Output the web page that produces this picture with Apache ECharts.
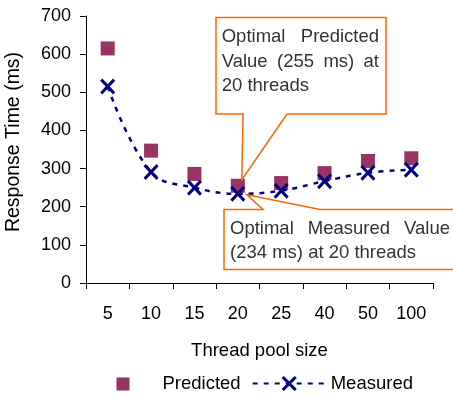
<!DOCTYPE html>
<html>
<head>
<meta charset="utf-8">
<script src="https://cdn.jsdelivr.net/npm/echarts@6/dist/echarts.min.js"></script>
<style>
  html, body { margin: 0; padding: 0; background: #fff; }
  #chart { width: 453px; height: 399px; }
</style>
</head>
<body>
<div id="chart"></div>
<script>
// Response time per thread pool size
const threadPoolSizes = ['5', '10', '15', '20', '25', '40', '50', '100'];
const predictedMs = [615, 347, 286, 255, 262, 288, 320, 327];
const measuredMs = [515, 291, 250, 234, 242, 267, 289, 297];
const yTickValues = [0, 100, 200, 300, 400, 500, 600, 700];
const optimalIndex = 3;

const FONT = '"Liberation Sans", Arial, sans-serif';
const ORANGE = '#FF6600';
const NOTE_COLOR = '#333333';
const NOTE_SIZE = 18.5;
// "X" marker outline, filled
const crossPath = 'path://M1.4,0 L5,3.6 L8.6,0 L10,1.4 L6.4,5 L10,8.6 L8.6,10 L5,6.4 L1.4,10 L0,8.6 L3.6,5 L0,1.4 Z';

const chart = echarts.init(document.getElementById('chart'), null, { renderer: 'canvas' });

chart.setOption({
  animation: false,
  backgroundColor: '#ffffff',
  textStyle: { fontFamily: FONT },
  grid: { left: 86, right: 20, top: 16, bottom: 116, containLabel: false, outerBoundsMode: 'none' },
  xAxis: {
    type: 'category',
    data: threadPoolSizes,
    boundaryGap: true,
    name: 'Thread pool size',
    nameLocation: 'middle',
    nameGap: 58,
    nameTextStyle: { fontSize: 18.5, color: '#000', fontFamily: FONT },
    axisLine: { lineStyle: { color: '#000', width: 1 } },
    axisTick: { show: true, length: 6, lineStyle: { color: '#000' } },
    axisLabel: { fontSize: 18, color: '#000', margin: 22, fontFamily: FONT },
    splitLine: { show: false }
  },
  yAxis: {
    type: 'value',
    min: yTickValues[0],
    max: yTickValues[yTickValues.length - 1],
    interval: yTickValues[1] - yTickValues[0],
    name: 'Response Time (ms)',
    nameLocation: 'middle',
    nameGap: 62,
    nameRotate: 90,
    nameTextStyle: { fontSize: 19.5, color: '#000', fontFamily: FONT, padding: [0, 0, 0, 15] },
    axisLine: { show: true, lineStyle: { color: '#000', width: 1 } },
    axisTick: { show: true, length: 6, lineStyle: { color: '#000' } },
    axisLabel: { fontSize: 18, color: '#000', margin: 15, fontFamily: FONT },
    splitLine: { show: false }
  },
  legend: [
    {
      data: ['Predicted'],
      left: 116.5, top: 374.5, padding: 0,
      itemWidth: 13, itemHeight: 13,
      textStyle: { fontSize: 18.5, color: '#000', fontFamily: FONT, padding: [0, 0, 0, 28] }
    },
    {
      data: ['Measured'],
      left: 251.7, top: 374, padding: 0,
      itemWidth: 73, itemHeight: 19,
      textStyle: { fontSize: 18.5, color: '#000', fontFamily: FONT }
    }
  ],
  series: [
    {
      name: 'Predicted',
      type: 'scatter',
      data: predictedMs,
      symbol: 'rect',
      symbolSize: 14,
      itemStyle: { color: '#993366', opacity: 1 }
    },
    {
      name: 'Measured',
      type: 'line',
      data: measuredMs,
      smooth: 0.4,
      symbol: crossPath,
      symbolSize: [15, 16],
      showAllSymbol: true,
      itemStyle: { color: '#000080' },
      lineStyle: { color: '#000080', width: 2.5, type: [5, 6] }
    }
  ]
});

// Callout notes with justified text
const measureCtx = document.createElement('canvas').getContext('2d');
measureCtx.font = NOTE_SIZE + 'px ' + FONT;
function textWidth(s) { return measureCtx.measureText(s).width; }

function noteLine(words, left, right, y, justify) {
  const items = [];
  if (!justify || words.length < 2) {
    items.push({ text: words.join(' '), x: left });
  } else {
    const widths = words.map(textWidth);
    const total = widths.reduce((a, b) => a + b, 0);
    const gap = (right - left - total) / (words.length - 1);
    let x = left;
    words.forEach((w, i) => { items.push({ text: w, x: x }); x += widths[i] + gap; });
  }
  return items.map(it => ({
    type: 'text',
    x: it.x, y: y,
    z: 20,
    style: {
      text: it.text,
      fontSize: NOTE_SIZE,
      fontFamily: FONT,
      fill: NOTE_COLOR,
      align: 'left',
      verticalAlign: 'middle'
    }
  }));
}

const bestThreads = threadPoolSizes[optimalIndex];
const pPred = chart.convertToPixel({ gridIndex: 0 }, [optimalIndex, predictedMs[optimalIndex]]);
const pMeas = chart.convertToPixel({ gridIndex: 0 }, [optimalIndex, measuredMs[optimalIndex]]);

const predictedBox = {
  type: 'polygon', z: 15,
  shape: { points: [
    [216, 17.5], [386, 17.5], [386, 114], [287, 114],
    [pPred[0] + 4, pPred[1] - 6],
    [243, 114], [216, 114]
  ] },
  style: { fill: '#fff', stroke: ORANGE, lineWidth: 1.5 }
};
const measuredBox = {
  type: 'polygon', z: 15,
  shape: { points: [
    [224, 209.5], [263, 209.5],
    [pMeas[0] + 9, pMeas[1] + 1],
    [320, 209.5], [460, 209.5], [460, 269.5], [224, 269.5]
  ] },
  style: { fill: '#fff', stroke: ORANGE, lineWidth: 1.5 }
};

const noteTexts = [].concat(
  noteLine(['Optimal', 'Predicted'], 221.7, 379, 37, true),
  noteLine(['Value', '(' + predictedMs[optimalIndex], 'ms)', 'at'], 221.7, 379, 61.5, true),
  noteLine([bestThreads, 'threads'], 221.7, 379, 86, false),
  noteLine(['Optimal', 'Measured', 'Value'], 230, 450, 228.5, true),
  noteLine(['(' + measuredMs[optimalIndex], 'ms)', 'at', bestThreads, 'threads'], 230, 450, 253, false)
);

chart.setOption({ graphic: [predictedBox, measuredBox].concat(noteTexts) });
</script>
</body>
</html>
